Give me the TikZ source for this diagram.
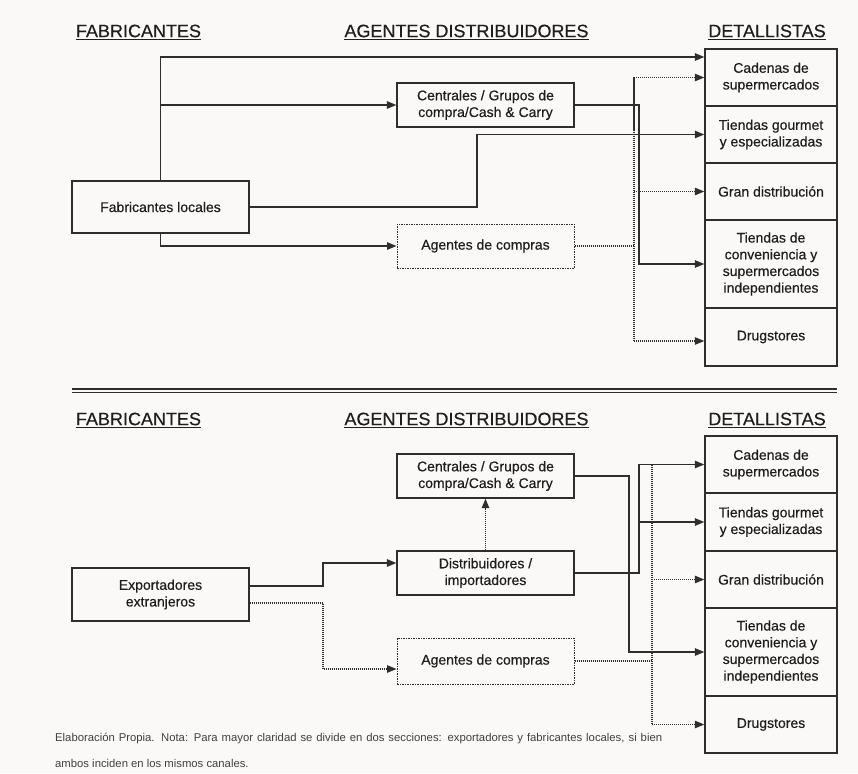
\documentclass[tikz,border=0pt]{standalone}
\usepackage{fontspec}
\setmainfont{Liberation Sans}[FakeBold=0.45]
\newfontfamily\capfont{Liberation Sans}
\usetikzlibrary{arrows.meta,calc}
\definecolor{bg}{HTML}{FBF9F7}
\definecolor{ln}{HTML}{2E2E2E}
\definecolor{tx}{HTML}{1E1E1E}
\definecolor{captx}{HTML}{404040}
\begin{document}
\begin{tikzpicture}[x=1pt,y=-1pt,
  box/.style={draw=ln, line width=1.3pt, minimum width=177pt, align=center,
    font=\fontsize{14}{16.7}\selectfont, text=tx, inner sep=0pt},
  dbox/.style={box, line width=1pt, dash pattern=on 1.5pt off 1pt},
  rbox/.style={draw=ln, line width=1.4pt, minimum width=132pt, align=center,
    font=\fontsize{14}{16.7}\selectfont, text=tx, inner sep=0pt},
  hdr/.style={font=\fontsize{18}{20}\selectfont, text=tx, inner sep=0pt},
  captext/.style={font=\capfont\fontsize{11.3}{13}\selectfont, text=captx, inner sep=0pt},
  arr/.style={draw=ln, line width=1.4pt, -{Triangle[length=9.5pt,width=7.5pt]}},
  dot/.style={draw=ln, line width=1.2pt, dash pattern=on 1.1pt off 0.9pt},
  dotarr/.style={dot, -{Triangle[length=9.5pt,width=7.5pt]}}
]
\fill[bg] (0,0) rectangle (858,773);
\useasboundingbox (0,0) rectangle (858,773);

% ---------- top section ----------
\node[hdr] (h1) at (138.5,32) {\underline{FABRICANTES}};
\node[hdr] (h2) at (466.5,32) {\underline{AGENTES DISTRIBUIDORES}};
\node[hdr] (h3) at (767,32) {\underline{DETALLISTAS}};

\node[box, minimum height=52pt] (fl) at (160.5,207) {Fabricantes locales};
\node[box, minimum height=44pt] (ce1) at (485.5,105) {Centrales / Grupos de\\compra/Cash \& Carry};
\node[dbox, minimum height=44pt] (ag1) at (485.5,246) {Agentes de compras};

\node[rbox, minimum height=57pt] (r1) at (771,77.5) {Cadenas de\\supermercados};
\node[rbox, minimum height=57pt] (r2) at (771,134.5) {Tiendas gourmet\\y especializadas};
\node[rbox, minimum height=57pt] (r3) at (771,191.5) {Gran distribución};
\node[rbox, minimum height=88pt] (r4) at (771,264) {Tiendas de\\conveniencia y\\supermercados\\independientes};
\node[rbox, minimum height=58pt] (r5) at (771,337) {Drugstores};

\coordinate (k1) at (477,0);
\coordinate (k2) at (639,0);
\coordinate (k3) at (634,0);
\coordinate (r1a) at ([yshift=20.5pt]r1.west);
\coordinate (r5a) at ([yshift=-4pt]r5.west);

\draw[arr] (fl.north) |- (r1a);
\draw[arr] (fl.north |- ce1.west) -- (ce1.west);
\draw[arr] (fl.south) |- (ag1.west);
\draw[arr] (fl.east) -| (k1 |- r2.west) -- (r2.west);
\draw[arr] (ce1.east) -| (k2 |- r4.west) -- (r4.west);

\draw[dot] (ag1.east) -- (k3 |- ag1.east);
\draw[dot] (k3 |- r1.west) -- (k3 |- r5a);
\draw[dotarr] (k3 |- r1.west) -- (r1.west);
\draw[dotarr] (k3 |- r3.west) -- (r3.west);
\draw[dotarr] (k3 |- r5a) -- (r5a);

% ---------- separator ----------
\draw[ln, line width=1.6pt] (72,388.8) -- (837,388.8);
\draw[ln, line width=1.2pt] (72,392.5) -- (837,392.5);

% ---------- bottom section ----------
\node[hdr] (h4) at (138.5,420) {\underline{FABRICANTES}};
\node[hdr] (h5) at (466.5,420) {\underline{AGENTES DISTRIBUIDORES}};
\node[hdr] (h6) at (767,420) {\underline{DETALLISTAS}};

\node[box, minimum height=53pt] (ex) at (160.5,594.5) {Exportadores\\extranjeros};
\node[box, minimum height=44pt] (ce2) at (485.5,476) {Centrales / Grupos de\\compra/Cash \& Carry};
\node[box, minimum height=44pt] (di) at (485.5,573) {Distribuidores /\\importadores};
\node[dbox, minimum height=46pt] (ag2) at (485.5,661) {Agentes de compras};

\node[rbox, minimum height=57pt] (s1) at (771,464.5) {Cadenas de\\supermercados};
\node[rbox, minimum height=58pt] (s2) at (771,522) {Tiendas gourmet\\y especializadas};
\node[rbox, minimum height=57pt] (s3) at (771,579.5) {Gran distribución};
\node[rbox, minimum height=88pt] (s4) at (771,652) {Tiendas de\\conveniencia y\\supermercados\\independientes};
\node[rbox, minimum height=57pt] (s5) at (771,724.5) {Drugstores};

\coordinate (k4) at (323,0);
\coordinate (k5) at (629,0);
\coordinate (k6) at (639,0);
\coordinate (k7) at (652,0);
\coordinate (exa) at ([yshift=8.5pt]ex.east);
\coordinate (exb) at ([yshift=-8.5pt]ex.east);
\coordinate (dia) at ([yshift=10pt]di.west);
\coordinate (ag2a) at ([yshift=-8pt]ag2.west);

\draw[arr] (exa) -| (k4 |- dia) -- (dia);
\draw[dotarr] (exb) -| (k4 |- ag2a) -- (ag2a);
\draw[dotarr] (di.north) -- (ce2.south);
\draw[arr] (ce2.east) -| (k5 |- s4.west) -- (s4.west);
\draw[arr] (di.east) -| (k6 |- s1.west) -- (s1.west);
\draw[arr] (k6 |- s2.west) -- (s2.west);

\draw[dot] (ag2.east) -- (k7 |- ag2.east);
\draw[dot] (k7 |- s1.west) -- (k7 |- s5.west);
\draw[dotarr] (k7 |- s3.west) -- (s3.west);
\draw[dotarr] (k7 |- s5.west) -- (s5.west);

% ---------- caption ----------
\node[captext, anchor=west] (c1) at (55,739) {\makebox[607pt][s]{Elaboración Propia. Nota: Para mayor claridad se divide en dos secciones: exportadores y fabricantes locales, si bien}};
\node[captext, anchor=west] (c2) at (55,763) {ambos inciden en los mismos canales.};
\end{tikzpicture}
\end{document}
